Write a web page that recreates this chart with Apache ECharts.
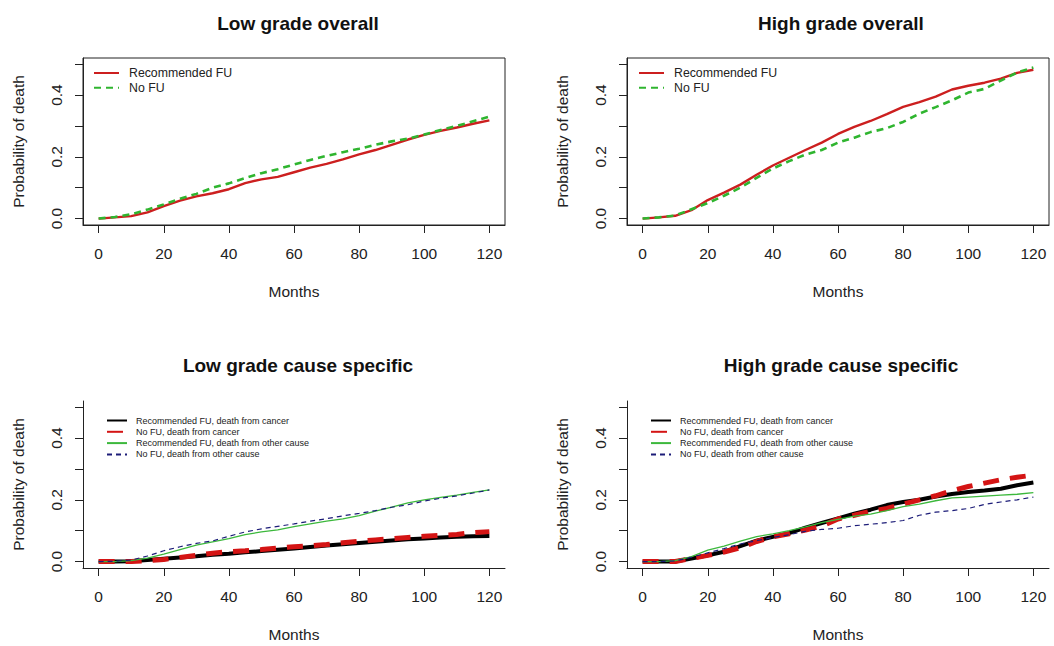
<!DOCTYPE html>
<html>
<head>
<meta charset="utf-8">
<script src="https://cdn.jsdelivr.net/npm/echarts@6/dist/echarts.min.js"></script>
<style>
  html, body { margin: 0; padding: 0; background: #fff; }
  #chart { width: 1054px; height: 646px; }
</style>
</head>
<body>
<div id="chart"></div>
<script>
// Follow-up time grid (months)
const months = [0,5,10,15,20,25,30,35,40,45,50,55,60,65,70,75,80,85,90,95,100,105,110,115,120];

// Low grade, all-cause probability of death
const lowRecFU = [0,0.004,0.008,0.02,0.04,0.058,0.072,0.082,0.095,0.115,0.127,0.135,0.15,0.165,0.177,0.192,0.208,0.222,0.239,0.256,0.271,0.284,0.295,0.307,0.318];
const lowNoFU  = [0,0.005,0.014,0.029,0.046,0.064,0.08,0.1,0.114,0.131,0.147,0.16,0.175,0.19,0.203,0.215,0.226,0.239,0.25,0.259,0.272,0.287,0.3,0.315,0.33];

// High grade, all-cause probability of death
const highRecFU = [0,0.004,0.009,0.027,0.06,0.084,0.11,0.142,0.172,0.197,0.222,0.246,0.274,0.297,0.316,0.338,0.362,0.377,0.395,0.418,0.43,0.44,0.453,0.472,0.482];
const highNoFU  = [0,0.004,0.01,0.03,0.05,0.074,0.1,0.132,0.162,0.186,0.207,0.222,0.246,0.262,0.28,0.293,0.313,0.34,0.361,0.383,0.408,0.42,0.447,0.473,0.489];

// Low grade, cause specific
const lowRecCancer = [0,0,0.001,0.005,0.009,0.013,0.017,0.022,0.025,0.03,0.034,0.038,0.042,0.047,0.052,0.056,0.06,0.064,0.068,0.072,0.075,0.078,0.08,0.082,0.083];
const lowNoCancer  = [0,0,0,0.003,0.007,0.013,0.02,0.027,0.032,0.035,0.039,0.044,0.048,0.051,0.055,0.061,0.066,0.07,0.074,0.078,0.082,0.085,0.088,0.094,0.097];
const lowRecOther  = [0,0,0.003,0.011,0.024,0.039,0.053,0.064,0.074,0.087,0.096,0.103,0.113,0.122,0.131,0.138,0.149,0.163,0.176,0.19,0.2,0.208,0.215,0.224,0.232];
const lowNoOther   = [0,0.001,0.005,0.018,0.035,0.048,0.059,0.067,0.082,0.096,0.106,0.114,0.122,0.131,0.139,0.148,0.156,0.165,0.176,0.184,0.196,0.205,0.213,0.222,0.232];

// High grade, cause specific
const highRecCancer = [0,0,0,0.01,0.02,0.032,0.05,0.068,0.08,0.092,0.11,0.125,0.14,0.155,0.168,0.183,0.193,0.2,0.211,0.219,0.225,0.23,0.236,0.247,0.256];
const highNoCancer  = [0,0,0,0.01,0.02,0.031,0.045,0.065,0.08,0.09,0.102,0.115,0.138,0.15,0.163,0.172,0.186,0.2,0.213,0.23,0.243,0.254,0.265,0.273,0.28];
const highRecOther  = [0,0,0.003,0.016,0.037,0.05,0.066,0.081,0.09,0.1,0.112,0.126,0.137,0.147,0.154,0.165,0.178,0.186,0.197,0.206,0.209,0.212,0.215,0.218,0.223];
const highNoOther   = [0,0,0.002,0.014,0.028,0.042,0.057,0.068,0.078,0.087,0.098,0.104,0.108,0.116,0.121,0.126,0.133,0.15,0.16,0.165,0.172,0.185,0.193,0.2,0.209];

// Panel titles and labels
const panelTitles = ['Low grade overall', 'High grade overall', 'Low grade cause specific', 'High grade cause specific'];
const xTicks = [0, 20, 40, 60, 80, 100, 120];
const yTicks = [0, 0.1, 0.2, 0.3, 0.4, 0.5];
const yLabelTicks = [0, 0.2, 0.4];
const xTitle = 'Months';
const yTitle = 'Probability of death';
const overallNames = ['Recommended FU', 'No FU'];
const causeNames = ['Recommended FU, death from cancer', 'No FU, death from cancer',
                    'Recommended FU, death from other cause', 'No FU, death from other cause'];

const pairs = (ys) => months.map((m, i) => [m, ys[i]]);

const textColor = '#222';
const fontFamily = 'Liberation Sans, Arial, sans-serif';

const grids = [
  { left: 83,  top: 58,  width: 422, height: 167, boxed: true },
  { left: 627, top: 58,  width: 422, height: 167, boxed: true },
  { left: 83,  top: 401, width: 422, height: 167, boxed: false },
  { left: 627, top: 401, width: 422, height: 167, boxed: false }
];

const xAxes = grids.map((g, i) => ({
  type: 'value', gridIndex: i, min: -4.8, max: 124.8,
  name: xTitle, nameLocation: 'middle', nameGap: 58,
  nameTextStyle: { color: textColor, fontSize: 15.5, fontFamily },
  axisLine: { show: true, onZero: false, lineStyle: { color: '#222', width: 1 } },
  axisTick: { show: true, customValues: xTicks, length: 8, lineStyle: { color: '#222' } },
  axisLabel: { show: true, customValues: xTicks, margin: 20, color: textColor, fontSize: 15.5, fontFamily },
  splitLine: { show: false }
}));

const yAxes = grids.map((g, i) => ({
  type: 'value', gridIndex: i, min: -0.0208, max: 0.52,
  name: yTitle, nameLocation: 'middle', nameGap: 57,
  nameTextStyle: { color: textColor, fontSize: 15.5, fontFamily },
  axisLine: { show: true, onZero: false, lineStyle: { color: '#222', width: 1 } },
  axisTick: { show: true, customValues: yTicks, length: 8, lineStyle: { color: '#222' } },
  axisLabel: { show: true, customValues: yLabelTicks, rotate: 90, margin: 19, color: textColor,
               fontSize: 15.5, fontFamily, formatter: (v) => v.toFixed(1) },
  splitLine: { show: false }
}));

function line(name, idx, ys, color, width, type) {
  return {
    type: 'line', name, xAxisIndex: idx, yAxisIndex: idx, data: pairs(ys),
    symbol: 'none', showSymbol: false, animation: false,
    lineStyle: { color, width, type: type || 'solid', cap: 'butt' },
    itemStyle: { color },
    z: 3
  };
}

const red = '#cc1f1f';
const green = '#2fb52f';
const series = [
  line(overallNames[0], 0, lowRecFU, red, 2.4),
  line(overallNames[1], 0, lowNoFU, green, 2.6, [7, 5]),
  line(overallNames[0], 1, highRecFU, red, 2.4),
  line(overallNames[1], 1, highNoFU, green, 2.6, [7, 5]),

  line(causeNames[0], 2, lowRecCancer, '#000', 4),
  line(causeNames[1], 2, lowNoCancer, '#d41414', 5, [16, 11]),
  line(causeNames[2], 2, lowRecOther, '#3cb83c', 1.3),
  line(causeNames[3], 2, lowNoOther, '#1c1c78', 1.2, [5, 4]),

  line(causeNames[0], 3, highRecCancer, '#000', 4),
  line(causeNames[1], 3, highNoCancer, '#d41414', 5, [16, 11]),
  line(causeNames[2], 3, highRecOther, '#3cb83c', 1.3),
  line(causeNames[3], 3, highNoOther, '#1c1c78', 1.2, [5, 4])
];

const titleCenters = [[293, 9], [836, 9], [293, 351], [836, 351]];
const titles = panelTitles.map((t, i) => ({
  text: t, left: titleCenters[i][0], top: titleCenters[i][1], textAlign: 'center',
  textStyle: { fontSize: 19, fontWeight: 'bold', color: '#111', fontFamily }
}));

const legends = [
  { left: 93, top: 67, data: overallNames, itemWidth: 25, itemHeight: 14, itemGap: 2.7,
    textStyle: { fontSize: 12.3, padding: [0, 0, 0, 5] } },
  { left: 638, top: 67, data: overallNames, itemWidth: 25, itemHeight: 14, itemGap: 2.7,
    textStyle: { fontSize: 12.3, padding: [0, 0, 0, 5] } },
  { left: 106, top: 416, data: causeNames, itemWidth: 20, itemHeight: 11, itemGap: 2.3,
    textStyle: { fontSize: 9, padding: [0, 0, 0, 4] } },
  { left: 650, top: 416, data: causeNames, itemWidth: 20, itemHeight: 11, itemGap: 2.3,
    textStyle: { fontSize: 9, padding: [0, 0, 0, 4] } }
].map(l => ({
  ...l, orient: 'vertical', padding: 0, selectedMode: false,
  // line-only keys: the point marker in each key is made invisible
  itemStyle: { color: 'rgba(0,0,0,0)', borderColor: 'rgba(0,0,0,0)', borderWidth: 0 },
  textStyle: { ...l.textStyle, color: '#222', fontFamily }
}));

const chart = echarts.init(document.getElementById('chart'), null, { renderer: 'svg' });
chart.setOption({
  backgroundColor: '#fff',
  animation: false,
  title: titles,
  legend: legends,
  grid: grids.map(g => ({
    left: g.left, top: g.top, width: g.width, height: g.height,
    show: g.boxed, borderColor: '#222', borderWidth: 1, backgroundColor: 'transparent'
  })),
  xAxis: xAxes,
  yAxis: yAxes,
  series
});
</script>
</body>
</html>
